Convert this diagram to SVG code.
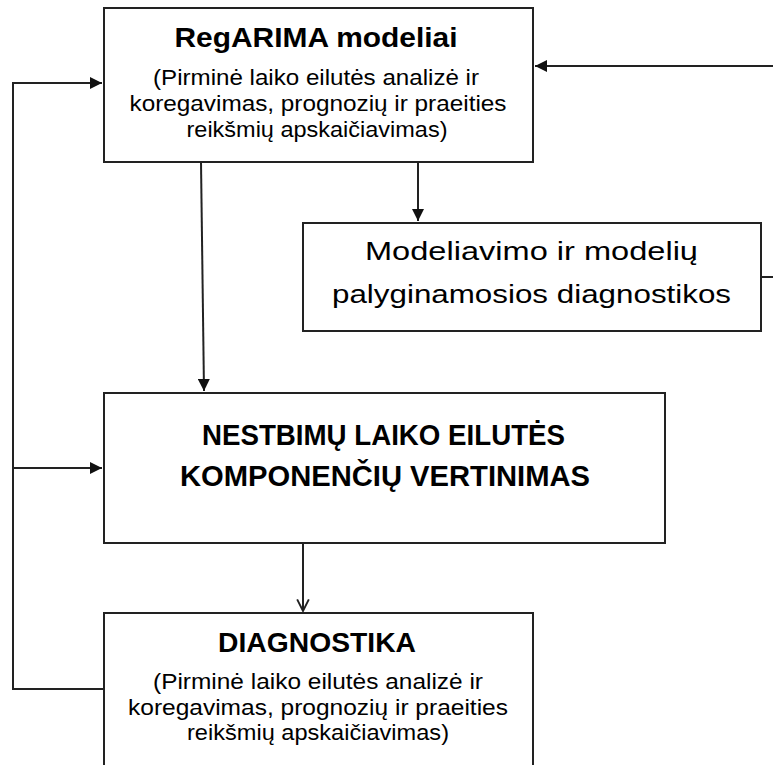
<svg xmlns="http://www.w3.org/2000/svg" width="773" height="765" viewBox="0 0 773 765">
<style>
.box{fill:#fff;stroke:#222;stroke-width:2}
.ln{fill:none;stroke:#222;stroke-width:2}
.t{font-family:"Liberation Sans",Arial,sans-serif;fill:#000;text-anchor:middle}
.b{font-weight:bold}
</style>
<defs>
<marker id="fa" viewBox="0 0 10 10" refX="10" refY="5" markerWidth="12" markerHeight="12" markerUnits="userSpaceOnUse" orient="auto">
<path d="M0,0 L10,5 L0,10 Z" fill="#111"/>
</marker>
<marker id="oa" viewBox="0 0 12 12" refX="11" refY="6" markerWidth="14" markerHeight="14" markerUnits="userSpaceOnUse" orient="auto">
<path d="M1,1 L11,6 L1,11" fill="none" stroke="#222" stroke-width="1.6"/>
</marker>
</defs>
<rect width="773" height="765" fill="#fff"/>
<g id="connectors">
<path class="ln" d="M773,66 H535" marker-end="url(#fa)"/>
<path class="ln" d="M761,277 H773"/>
<path class="ln" d="M104,689 H13 V83 H102" marker-end="url(#fa)"/>
<path class="ln" d="M13,468 H102" marker-end="url(#fa)"/>
<path class="ln" d="M201,162 L204,391" marker-end="url(#fa)"/>
<path class="ln" d="M418,162 V221" marker-end="url(#fa)"/>
<path class="ln" d="M303,543 V611" marker-end="url(#oa)"/>
</g>
<g id="regarima">
<rect class="box" x="104" y="8" width="429" height="154"/>
<text class="t b" x="316" y="47" font-size="28" textLength="283" lengthAdjust="spacingAndGlyphs">RegARIMA modeliai</text>
<text class="t" x="316" y="85" font-size="22" textLength="326" lengthAdjust="spacingAndGlyphs">(Pirminė laiko eilutės analizė ir</text>
<text class="t" x="318" y="111" font-size="22" textLength="377" lengthAdjust="spacingAndGlyphs">koregavimas, prognozių ir praeities</text>
<text class="t" x="317" y="137" font-size="22" textLength="261" lengthAdjust="spacingAndGlyphs">reikšmių apskaičiavimas)</text>
</g>
<g id="modeliavimo">
<rect class="box" x="303" y="223" width="458" height="108"/>
<text class="t" x="531.5" y="260" font-size="26" textLength="333" lengthAdjust="spacingAndGlyphs">Modeliavimo ir modelių</text>
<text class="t" x="531.5" y="303" font-size="26" textLength="399" lengthAdjust="spacingAndGlyphs">palyginamosios diagnostikos</text>
</g>
<g id="vertinimas">
<rect class="box" x="104" y="393" width="561" height="150"/>
<text class="t b" x="383.5" y="445" font-size="29" textLength="363" lengthAdjust="spacingAndGlyphs">NESTBIMŲ LAIKO EILUTĖS</text>
<text class="t b" x="385" y="486" font-size="29" textLength="410" lengthAdjust="spacingAndGlyphs">KOMPONENČIŲ VERTINIMAS</text>
</g>
<g id="diagnostika">
<rect class="box" x="104" y="613" width="429" height="170"/>
<text class="t b" x="317" y="652" font-size="28" textLength="198" lengthAdjust="spacingAndGlyphs">DIAGNOSTIKA</text>
<text class="t" x="318" y="689" font-size="22" textLength="330" lengthAdjust="spacingAndGlyphs">(Pirminė laiko eilutės analizė ir</text>
<text class="t" x="318" y="715" font-size="22" textLength="380" lengthAdjust="spacingAndGlyphs">koregavimas, prognozių ir praeities</text>
<text class="t" x="318" y="740" font-size="22" textLength="262" lengthAdjust="spacingAndGlyphs">reikšmių apskaičiavimas)</text>
</g>
</svg>
